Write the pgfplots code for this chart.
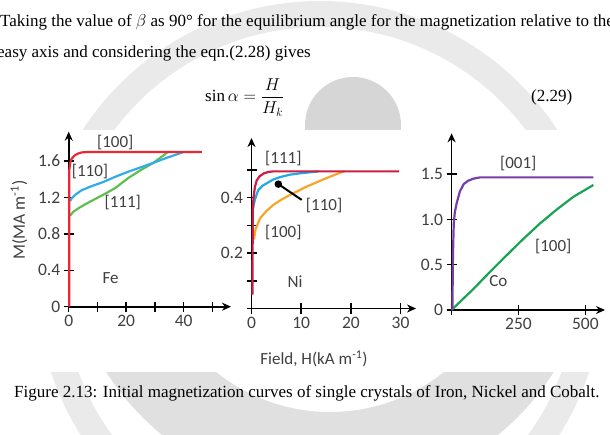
\documentclass[border=0pt]{standalone}
\usepackage{pgfplots}
\pgfplotsset{compat=1.18}
\usepackage{fontspec}
\setmainfont{Liberation Serif}
\newfontfamily\chartfont{Carlito}
\usetikzlibrary{arrows.meta}

\definecolor{fered}{RGB}{232,40,52}
\definecolor{feblue}{RGB}{50,172,232}
\definecolor{fegreen}{RGB}{96,190,80}
\definecolor{nired}{RGB}{206,30,66}
\definecolor{niblue}{RGB}{30,172,232}
\definecolor{niorange}{RGB}{246,166,40}
\definecolor{copurple}{RGB}{120,62,168}
\definecolor{cogreen}{RGB}{24,164,84}
\definecolor{lbl}{RGB}{64,64,64}
\definecolor{wmlight}{RGB}{234,234,234}
\definecolor{wm}{RGB}{224,224,224}
\definecolor{wmdark}{RGB}{214,214,214}

\tikzset{ann/.style={font=\chartfont\fontsize{17}{18}\selectfont, text=lbl}}

\pgfplotsset{
  myax/.style={
    scale only axis, axis lines=left, clip=false,
    axis line style={line width=1.6pt, black},
    x axis line style={-{Stealth[length=9pt,width=8pt]}},
    y axis line style={-{Stealth[length=9pt,width=8pt]}},
    tick align=center, major tick length=10pt,
    tick style={line width=1.5pt, black},
    ticklabel style={font=\chartfont\fontsize{17.5}{18}\selectfont, text=lbl},
    /pgf/number format/assume math mode=true,
    every axis plot/.append style={line width=2.2pt},
  }
}

\begin{document}
\begin{tikzpicture}[x=1pt,y=1pt]
\useasboundingbox (0,0) rectangle (610,434);
\clip (0,0) rectangle (610,434);

% faint background watermark of the page
\draw[wmlight, line width=26pt] (320,150) circle [radius=270pt];
\fill[wmdark] (353,309) circle [radius=48pt];
\begin{scope}
  \clip (0,0) rectangle (610,62);
  \fill[wm, even odd rule] (330,204) circle [radius=265pt] (330,204) circle [radius=182pt];
\end{scope}
% the figure itself has an opaque white background
\fill[white] (0,62) rectangle (610,304);

% page text
\node[anchor=base west, inner sep=0, font=\fontsize{17}{20}\selectfont] at (0,407.5) {Taking the value of $\beta$ as 90° for the equilibrium angle for the magnetization relative to the};
\node[anchor=base west, inner sep=0, font=\fontsize{17}{20}\selectfont] at (-3,376.5) {easy axis and considering the eqn.(2.28) gives};
\node[anchor=base west, inner sep=0, font=\fontsize{17}{20}\selectfont] at (205,332) {$\displaystyle \sin\alpha = \frac{H}{H_k}$};
\node[anchor=base west, inner sep=0, font=\fontsize{17}{20}\selectfont] at (531,332) {(2.29)};
\node[anchor=base west, inner sep=0, font=\fontsize{17}{20}\selectfont] at (14,37) {Figure 2.13: Initial magnetization curves of single crystals of Iron, Nickel and Cobalt.};

% axis titles
\node[rotate=90, ann, font=\chartfont\fontsize{17.5}{18}\selectfont] at (19,214) {M(MA m\textsuperscript{-1})};
\node[ann] at (314,75) {Field, H(kA m\textsuperscript{-1})};

% ---------- Fe ----------
\begin{axis}[myax, at={(68.7pt,127.3pt)}, anchor=south west,
  width=162.3pt, height=175pt,
  xmin=0, xmax=56.45, ymin=0, ymax=1.923,
  xtick={0,10,20,30,40,50}, xticklabels={0,,20,,40,},
  ytick={0,0.4,0.8,1.2,1.6}, yticklabels={0,0.4,0.8,1.2,1.6}]
\addplot[fegreen] coordinates {(0.5,1.0) (1.5,1.04) (3.3,1.08) (6,1.13) (9,1.18) (12,1.23) (16,1.30) (21,1.42) (25,1.50) (29.4,1.58) (32,1.64) (34.5,1.70)};
\addplot[feblue] coordinates {(0.5,1.16) (1,1.19) (2.5,1.235) (4.5,1.28) (8,1.325) (12,1.37) (16,1.425) (20,1.475) (24,1.52) (29.4,1.58) (34,1.635) (40,1.70)};
\addplot[fered] coordinates {(0.2,0) (0.2,1.5) (0.5,1.58) (1,1.625) (2,1.66) (3,1.68) (4.5,1.695) (6.5,1.70) (46.3,1.70)};
\node[ann] at (axis cs:16.2,1.807) {[100]};
\node[ann] at (axis cs:7.4,1.484) {[110]};
\node[ann] at (axis cs:18.8,1.143) {[111]};
\node[ann] at (axis cs:14.6,0.312) {Fe};
\end{axis}

% ---------- Ni ----------
\begin{axis}[myax, at={(251.5pt,125.5pt)}, anchor=south west,
  width=164.5pt, height=170.5pt,
  xmin=0, xmax=33.1, ymin=0, ymax=0.6155,
  xtick={0,10,20,30}, xticklabels={0,10,20,30},
  ytick={0,0.1,0.2,0.3,0.4,0.5}, yticklabels={,,0.2,,0.4,}]
\addplot[niorange] coordinates {(0.5,0.25) (0.8,0.285) (1.7,0.325) (3,0.352) (4.4,0.374) (6,0.393) (7.75,0.41) (11.1,0.44) (14.45,0.466) (17.8,0.49) (18.7,0.495)};
\addplot[niblue] coordinates {(0.3,0.36) (0.7,0.395) (1.37,0.428) (2.2,0.443) (3.06,0.452) (4.3,0.465) (5.7,0.474) (7.7,0.483) (9.8,0.488) (13.5,0.495)};
\addplot[nired] coordinates {(0.2,0.05) (0.25,0.35) (0.4,0.40) (0.7,0.44) (1.05,0.462) (1.6,0.477) (2.4,0.487) (3.4,0.493) (4.4,0.495) (29.7,0.495)};
\addplot[black, line width=2pt] coordinates {(5.4,0.449) (10.1,0.392)};
\addplot[black, only marks, mark=*, mark size=2.6pt] coordinates {(5.4,0.449)};
\node[ann] at (axis cs:6.4,0.54) {[111]};
\node[ann] at (axis cs:14.6,0.371) {[110]};
\node[ann] at (axis cs:6.4,0.274) {[100]};
\node[ann] at (axis cs:8.75,0.097) {Ni};
\end{axis}

% ---------- Co ----------
\begin{axis}[myax, at={(451.6pt,124pt)}, anchor=south west,
  width=153.4pt, height=176.7pt,
  xmin=0, xmax=573.5, ymin=0, ymax=1.952,
  xtick={0,250,500}, xticklabels={,250,500},
  ytick={0,0.5,1.0,1.5}, yticklabels={0,0.5,1.0,1.5}]
\addplot[cogreen] coordinates {(0,0) (40,0.115) (81,0.23) (143,0.42) (206,0.605) (268,0.785) (330,0.955) (393,1.11) (455,1.25) (530,1.381)};
\addplot[copurple] coordinates {(3,0) (5,0.6) (8,0.95) (12,1.08) (19,1.18) (31,1.31) (45,1.39) (60,1.425) (80,1.45) (106,1.465) (530,1.465)};
\node[ann] at (axis cs:249,1.62) {[001]};
\node[ann] at (axis cs:380,0.70) {[100]};
\node[ann] at (axis cs:175,0.324) {Co};
\end{axis}
\end{tikzpicture}
\end{document}
